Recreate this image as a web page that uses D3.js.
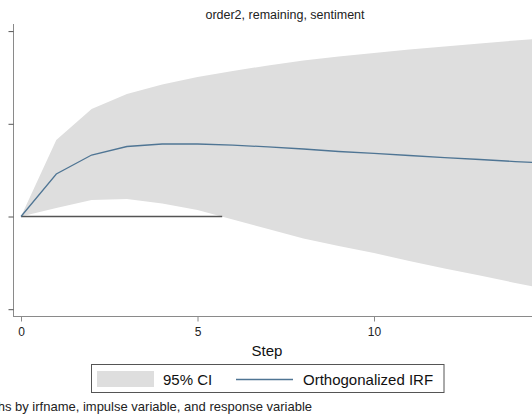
<!DOCTYPE html>
<html>
<head>
<meta charset="utf-8">
<script src="https://cdn.jsdelivr.net/npm/d3@7"></script>
<style>
  body { margin: 0; background: white; }
  svg { display: block; font-family: "Liberation Sans", Arial, sans-serif; }
</style>
</head>
<body>
<div id="chart"></div>
<script>
// irf data
var steps = [0, 1, 2, 3, 4, 5, 6, 7, 8, 9, 10, 11, 12, 13, 14, 15];
var irf = [0, 0.458, 0.663, 0.755, 0.782, 0.782, 0.771, 0.750, 0.728, 0.701, 0.680, 0.658, 0.636, 0.615, 0.593, 0.572];
var ciUpper = [0, 0.825, 1.160, 1.321, 1.424, 1.505, 1.570, 1.629, 1.683, 1.726, 1.764, 1.801, 1.834, 1.866, 1.899, 1.926];
var ciLower = [0, 0.092, 0.178, 0.189, 0.140, 0.070, -0.032, -0.135, -0.237, -0.318, -0.394, -0.480, -0.561, -0.636, -0.717, -0.793];
var zeroLine = [[0, 0], [5.7, 0]];
var xTicks = [0, 5, 10];
var yTicks = [-1, 0, 1, 2];
var legendLabels = ["95% CI", "Orthogonalized IRF"];

var width = 532, height = 415;
var bandColor = "#dedede", lineColor = "#4f7594", axisColor = "#8a8a8a";

var svg = d3.select("#chart").append("svg")
    .attr("width", width)
    .attr("height", height);

var x = d3.scaleLinear().domain([0, 5]).range([21, 197.5]);
var y = d3.scaleLinear().domain([0, 1]).range([216.5, 123.8]);

var rows = steps.map(function (s, i) {
    return {step: s, irf: irf[i], lo: ciLower[i], hi: ciUpper[i]};
});

// title
svg.append("text")
    .attr("x", 285)
    .attr("y", 19)
    .attr("text-anchor", "middle")
    .style("font-size", "12.5px")
    .attr("fill", "#222")
    .text("order2, remaining, sentiment");

// CI band
var area = d3.area()
    .x(function (d) { return x(d.step); })
    .y0(function (d) { return y(d.lo); })
    .y1(function (d) { return y(d.hi); });

svg.append("path")
    .datum(rows)
    .attr("d", area)
    .attr("fill", bandColor);

// zero line
svg.append("path")
    .datum(zeroLine)
    .attr("d", d3.line().x(function (d) { return x(d[0]); }).y(function (d) { return y(d[1]); }))
    .attr("stroke", "#555")
    .attr("stroke-width", 1.3)
    .attr("fill", "none");

// irf line
var line = d3.line()
    .x(function (d) { return x(d.step); })
    .y(function (d) { return y(d.irf); });

svg.append("path")
    .datum(rows)
    .attr("d", line)
    .attr("stroke", lineColor)
    .attr("stroke-width", 1.3)
    .attr("fill", "none");

// y axis (labels cropped off in the original)
var yAxis = svg.append("g")
    .attr("transform", "translate(13.5,0)")
    .call(d3.axisLeft(y).tickValues(yTicks).tickSize(5).tickFormat(""));
yAxis.select(".domain").attr("d", "M0,24V317").attr("stroke", axisColor);
yAxis.selectAll(".tick line").attr("stroke", "#555");

// x axis
var xAxis = svg.append("g")
    .attr("transform", "translate(0,316.5)")
    .call(d3.axisBottom(x).tickValues(xTicks).tickSize(5).tickPadding(6).tickFormat(d3.format("d")));
xAxis.select(".domain").attr("d", "M13.5,0H532").attr("stroke", axisColor);
xAxis.selectAll(".tick line").attr("stroke", axisColor);
xAxis.selectAll(".tick text")
    .style("font-size", "12px")
    .style("font-family", "'Liberation Sans', Arial, sans-serif")
    .attr("fill", "#222");

svg.append("text")
    .attr("x", 267)
    .attr("y", 356)
    .attr("text-anchor", "middle")
    .style("font-size", "15px")
    .attr("fill", "#111")
    .text("Step");

// legend
var legend = svg.append("g");
legend.append("rect")
    .attr("x", 91.5).attr("y", 364.5)
    .attr("width", 352.5).attr("height", 28)
    .attr("fill", "white")
    .attr("stroke", "#555");
legend.append("rect")
    .attr("x", 97).attr("y", 371)
    .attr("width", 57).attr("height", 16)
    .attr("fill", bandColor);
legend.append("text")
    .attr("x", 163).attr("y", 384.5)
    .style("font-size", "15px")
    .attr("fill", "#111")
    .text(legendLabels[0]);
legend.append("line")
    .attr("x1", 236).attr("x2", 293)
    .attr("y1", 379.5).attr("y2", 379.5)
    .attr("stroke", lineColor)
    .attr("stroke-width", 1.3);
legend.append("text")
    .attr("x", 303).attr("y", 384.5)
    .style("font-size", "15px")
    .attr("fill", "#111")
    .text(legendLabels[1]);

// note (left part is cut off in the original)
svg.append("text")
    .attr("x", 312)
    .attr("y", 411)
    .attr("text-anchor", "end")
    .style("font-size", "13px")
    .attr("fill", "#222")
    .text("Graphs by irfname, impulse variable, and response variable");
</script>
</body>
</html>
